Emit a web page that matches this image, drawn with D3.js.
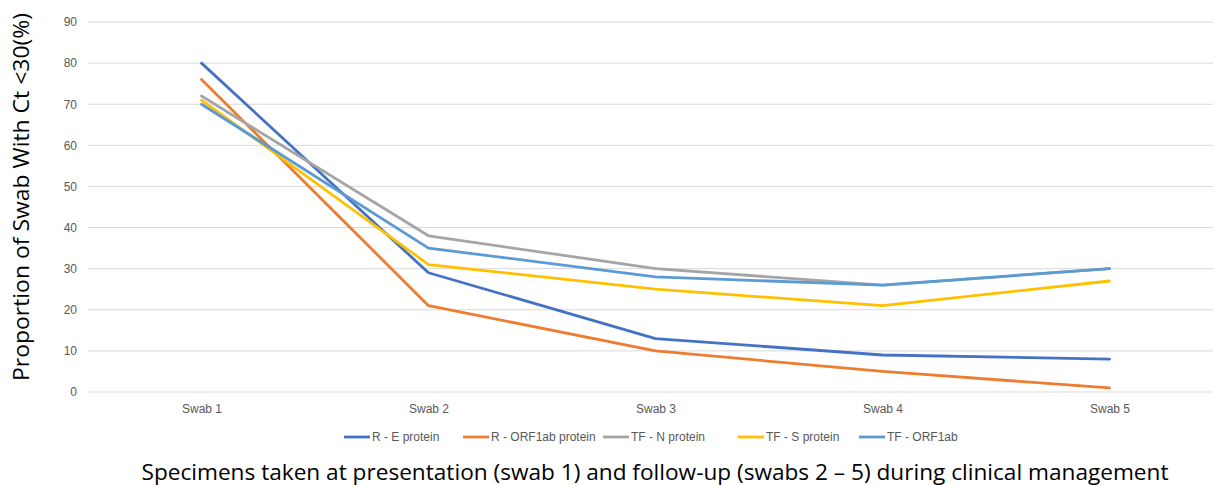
<!DOCTYPE html>
<html><head><meta charset="utf-8">
<script src="https://cdn.jsdelivr.net/npm/d3@7"></script>
<style>body{margin:0;background:#fff;}svg{display:block;}</style>
</head><body>
<svg id="c" width="1213" height="485"></svg>
<script>
const categories = ["Swab 1","Swab 2","Swab 3","Swab 4","Swab 5"];
const seriesNames = ["R - E protein","R - ORF1ab protein","TF - N protein","TF - S protein","TF - ORF1ab"];
const rE = [80, 29, 13, 9, 8];
const rORF = [76, 21, 10, 5, 1];
const tfN = [72, 38, 30, 26, 30];
const tfS = [71, 31, 25, 21, 27];
const tfORF = [70, 35, 28, 26, 30];
const yTicks = [0,10,20,30,40,50,60,70,80,90];
const colors = ["#4472C4","#ED7D31","#A5A5A5","#FFC000","#5B9BD5"];
const seriesValues = [rE, rORF, tfN, tfS, tfORF];

(function(){
const svg = d3.select("#c");
const font = "'Liberation Sans Narrow','Liberation Sans',Arial,sans-serif";
const pLeft = 88, pRight = 1223, pTop = 22, pBottom = 392;

const x = d3.scalePoint().domain(categories).range([pLeft, pRight]).padding(0.5);
const y = d3.scaleLinear().domain([0, 90]).range([pBottom, pTop]);

svg.append("g").selectAll("line").data(yTicks).join("line")
  .attr("x1", pLeft).attr("x2", 1213)
  .attr("y1", d => y(d)).attr("y2", d => y(d))
  .attr("stroke", "#d9d9d9").attr("stroke-width", 1);

const ya = svg.append("g").attr("transform", `translate(${pLeft},0)`)
  .call(d3.axisLeft(y).tickValues(yTicks).tickSize(0).tickPadding(11));
ya.select(".domain").remove();
ya.selectAll("text").attr("font-family", font).attr("font-size", 12).attr("fill", "#595959");

const xa = svg.append("g").attr("transform", `translate(0,${pBottom})`)
  .call(d3.axisBottom(x).tickSize(0).tickPadding(12));
xa.select(".domain").remove();
xa.selectAll("text").attr("font-family", font).attr("font-size", 12).attr("fill", "#595959");

const line = d3.line().x((d, i) => x(categories[i])).y(d => y(d));
svg.append("g").selectAll("path").data(seriesValues).join("path")
  .attr("d", d => line(d))
  .attr("fill", "none")
  .attr("stroke", (d, i) => colors[i])
  .attr("stroke-width", 2.8)
  .attr("stroke-linejoin", "round")
  .attr("stroke-linecap", "round");

const legX = [344, 463, 603, 738, 859];
const lg = svg.append("g").attr("transform", "translate(0,437)");
seriesNames.forEach((n, i) => {
  lg.append("line").attr("x1", legX[i]).attr("x2", legX[i] + 26)
    .attr("y1", 0).attr("y2", 0).attr("stroke", colors[i]).attr("stroke-width", 2.8);
  lg.append("text").attr("x", legX[i] + 28).attr("y", 4)
    .attr("font-family", font).attr("font-size", 12).attr("fill", "#595959").text(n);
});

svg.append("text")
  .attr("transform", "translate(29,197) rotate(-90)")
  .attr("text-anchor", "middle")
  .attr("font-family", "'Open Sans',sans-serif").attr("font-size", 21).attr("fill", "#000")
  .attr("textLength", 368).attr("lengthAdjust", "spacingAndGlyphs")
  .text("Proportion of Swab With Ct <30(%)");

svg.append("text")
  .attr("x", 655).attr("y", 480)
  .attr("text-anchor", "middle")
  .attr("font-family", "'Open Sans',sans-serif").attr("font-size", 21).attr("fill", "#000")
  .attr("textLength", 1027).attr("lengthAdjust", "spacingAndGlyphs")
  .text("Specimens taken at presentation (swab 1) and follow-up (swabs 2 – 5) during clinical management");
})();
</script>
</body></html>
